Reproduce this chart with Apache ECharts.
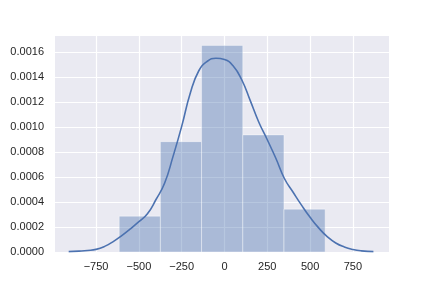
<!DOCTYPE html>
<html>
<head>
<meta charset="utf-8">
<script src="https://cdn.jsdelivr.net/npm/echarts@6/dist/echarts.min.js"></script>
<style>html,body{margin:0;padding:0;background:#fff}#c{width:432px;height:288px}</style>
</head>
<body>
<div id="c"></div>
<script>
// Histogram bins (density)
var binEdges = [-615, -374.4, -133.8, 106.8, 347.4, 588];
var binDensity = [0.000287, 0.000883, 0.001653, 0.000937, 0.000343];
// KDE curve
var kdeX = [-910, -850, -800, -750, -700, -650, -600, -550, -500, -450, -400, -350, -300, -250, -200, -150, -100, -50, 0, 50, 100, 150, 200, 250, 300, 350, 400, 450, 500, 550, 600, 650, 700, 750, 800, 870];
var kdeY = [0.000003, 0.000007, 0.000012, 0.000021, 0.000045, 0.000083, 0.000131, 0.000185, 0.000243, 0.000306, 0.00042, 0.00055, 0.000767, 0.001005, 0.00127, 0.00145, 0.001526, 0.00155, 0.00154, 0.00149, 0.00138, 0.001213, 0.00104, 0.000898, 0.00075, 0.000588, 0.00048, 0.000375, 0.000278, 0.000193, 0.000123, 0.000072, 0.00004, 0.00002, 0.000009, 0.000003];
// Tick labels
var xTicks = [-750, -500, -250, 0, 250, 500, 750];
var yTicks = [0, 0.0002, 0.0004, 0.0006, 0.0008, 0.0010, 0.0012, 0.0014, 0.0016];

var histData = [];
for (var i = 0; i < binDensity.length; i++) histData.push([binEdges[i], binEdges[i + 1], binDensity[i]]);
var kdeData = kdeX.map(function (x, i) { return [x, kdeY[i]]; });

var textColor = '#262626';
var font = '"Liberation Sans", Arial, sans-serif';
var chart = echarts.init(document.getElementById('c'), null, {renderer: 'canvas'});
chart.setOption({
  animation: false,
  backgroundColor: '#ffffff',
  grid: {left: 55, right: 43, top: 36, bottom: 36, show: true, backgroundColor: '#EAEAF2', borderWidth: 0},
  xAxis: {
    type: 'value', min: -990, max: 961,
    axisLine: {show: false},
    axisTick: {show: false, customValues: xTicks},
    axisLabel: {customValues: xTicks, color: textColor, fontFamily: font, fontSize: 11, margin: 9,
      formatter: function (v) { return String(v).replace('-', '\u2212'); }},
    splitLine: {show: true, lineStyle: {color: '#ffffff', width: 1.2}}
  },
  yAxis: {
    type: 'value', min: 0, max: 0.001728,
    axisLine: {show: false},
    axisTick: {show: false, customValues: yTicks},
    axisLabel: {customValues: yTicks, color: textColor, fontFamily: font, fontSize: 11, margin: 11,
      formatter: function (v) { return v.toFixed(4); }},
    splitLine: {show: true, lineStyle: {color: '#ffffff', width: 1.2}}
  },
  series: [
    {
      type: 'custom',
      data: histData,
      encode: {x: [0, 1], y: 2},
      renderItem: function (params, api) {
        var p0 = api.coord([api.value(0), api.value(2)]);
        var p1 = api.coord([api.value(1), 0]);
        return {
          type: 'rect',
          shape: {x: p0[0], y: p0[1], width: p1[0] - p0[0], height: p1[1] - p0[1]},
          style: {fill: 'rgba(76,114,176,0.4)', stroke: 'rgba(255,255,255,0.4)', lineWidth: 1}
        };
      },
      z: 2
    },
    {
      type: 'line',
      data: kdeData,
      smooth: 0.5,
      showSymbol: false,
      lineStyle: {color: '#4C72B0', width: 1.6},
      z: 3
    }
  ]
});
</script>
</body>
</html>
